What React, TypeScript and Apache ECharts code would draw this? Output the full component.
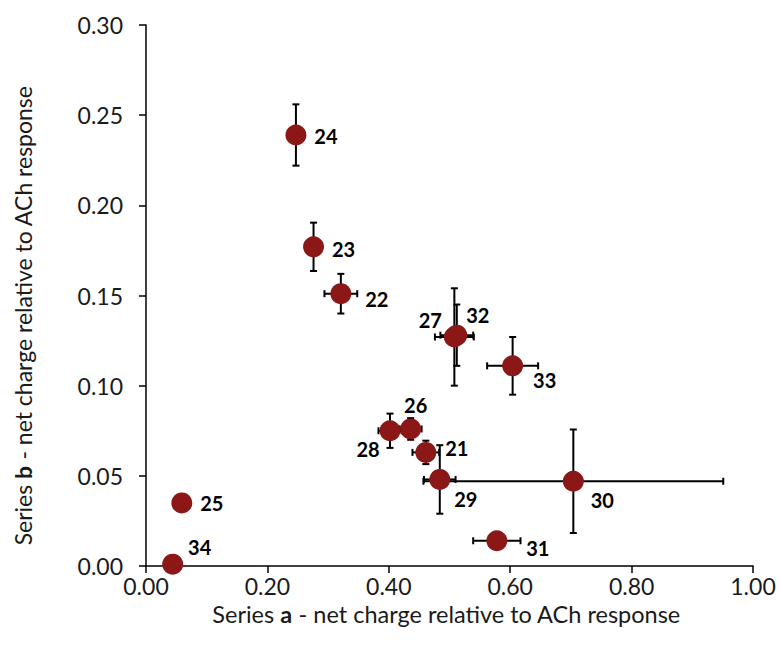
import React, { useEffect, useRef } from "react";
import * as echarts from "echarts";

// Sample identifiers
const ids = ["21", "22", "23", "24", "25", "26", "27", "28", "29", "30", "31", "32", "33", "34"];
// Series a (x) values
const seriesA = [0.461, 0.321, 0.276, 0.247, 0.059, 0.436, 0.508, 0.402, 0.484, 0.704, 0.578, 0.512, 0.604, 0.044];
// Series b (y) values
const seriesB = [0.063, 0.151, 0.177, 0.239, 0.035, 0.076, 0.127, 0.075, 0.048, 0.047, 0.014, 0.128, 0.111, 0.001];
// Error of series a (horizontal)
const errA = [0.022, 0.027, 0, 0, 0, 0.018, 0.032, 0.019, 0.026, 0.247, 0.039, 0.027, 0.042, 0];
// Error of series b (vertical)
const errB = [0.0065, 0.011, 0.0134, 0.017, 0, 0.006, 0.027, 0.0095, 0.019, 0.0287, 0, 0.017, 0.016, 0];

const xTicks = [0, 0.2, 0.4, 0.6, 0.8, 1.0];
const yTicks = [0, 0.05, 0.1, 0.15, 0.2, 0.25, 0.3];

// label offsets (styling) in px from marker centre
const labelOffset: Record<string, [number, number]> = {
  "21": [31, -4],
  "22": [36, 5],
  "23": [30, 2],
  "24": [30, 1],
  "25": [30, 0],
  "26": [5, -24],
  "27": [-24, -17],
  "28": [-22, 18],
  "29": [26, 20],
  "30": [29, 19],
  "31": [41, 7],
  "32": [21, -20],
  "33": [32, 14],
  "34": [27, -17],
};

const FONT = "Lato, 'Open Sans', sans-serif";
const MARKER = "#8c1717";
const TEXT = "#1a1a1a";

export default function App() {
  const ref = useRef<HTMLDivElement>(null);
  useEffect(() => {
    if (!ref.current) return;
    const chart = echarts.init(ref.current, undefined, { renderer: "svg" });
    const cap = 3.5;
    const errData = ids.map((id, i) => [seriesA[i], seriesB[i], errA[i], errB[i]]);
    const option: any = {
      animation: false,
      backgroundColor: "#ffffff",
      textStyle: { fontFamily: FONT },
      grid: { left: 146, right: 28, top: 25, bottom: 86, containLabel: false },
      xAxis: {
        type: "value",
        min: xTicks[0],
        max: xTicks[xTicks.length - 1],
        interval: 0.2,
        splitLine: { show: false },
        axisLine: { show: true, onZero: false, lineStyle: { color: "#000", width: 1.5 } },
        axisTick: { show: true, inside: false, length: 7, lineStyle: { color: "#000", width: 1.5 } },
        axisLabel: {
          color: TEXT,
          fontSize: 23,
          fontFamily: FONT,
          margin: 8,
          formatter: (v: number) => v.toFixed(2),
        },
        name: "Series {b|a} - net charge relative to ACh response",
        nameLocation: "middle",
        nameGap: 36,
        nameTextStyle: {
          color: TEXT,
          fontSize: 23.5,
          fontFamily: FONT,
          padding: [0, 6, 0, 0],
          rich: { b: { fontWeight: "bold", fontSize: 23.5, fontFamily: FONT, color: TEXT } },
        },
      },
      yAxis: {
        type: "value",
        min: yTicks[0],
        max: yTicks[yTicks.length - 1],
        interval: 0.05,
        splitLine: { show: false },
        axisLine: { show: true, onZero: false, lineStyle: { color: "#000", width: 1.5 } },
        axisTick: { show: true, inside: false, length: 7, lineStyle: { color: "#000", width: 1.5 } },
        axisLabel: {
          color: TEXT,
          fontSize: 23,
          fontFamily: FONT,
          margin: 23,
          formatter: (v: number) => v.toFixed(2),
        },
        name: "Series {b|b} - net charge relative to ACh response",
        nameLocation: "middle",
        nameGap: 112,
        nameRotate: 90,
        nameTextStyle: {
          color: TEXT,
          fontSize: 23,
          fontFamily: FONT,
          padding: [0, 40, 0, 0],
          rich: { b: { fontWeight: "bold", fontSize: 23, fontFamily: FONT, color: TEXT } },
        },
      },
      series: [
        {
          type: "custom",
          z: 1,
          data: errData,
          encode: { x: 0, y: 1 },
          renderItem: (params: any, api: any) => {
            const x = api.value(0);
            const y = api.value(1);
            const xe = api.value(2);
            const ye = api.value(3);
            const children: any[] = [];
            const st = { stroke: "#000", lineWidth: 2 };
            if (xe > 0) {
              const l = api.coord([x - xe, y]);
              const r = api.coord([x + xe, y]);
              children.push({ type: "line", shape: { x1: l[0], y1: l[1], x2: r[0], y2: r[1] }, style: st });
              children.push({ type: "line", shape: { x1: l[0], y1: l[1] - cap, x2: l[0], y2: l[1] + cap }, style: st });
              children.push({ type: "line", shape: { x1: r[0], y1: r[1] - cap, x2: r[0], y2: r[1] + cap }, style: st });
            }
            if (ye > 0) {
              const t = api.coord([x, y + ye]);
              const b = api.coord([x, y - ye]);
              children.push({ type: "line", shape: { x1: t[0], y1: t[1], x2: b[0], y2: b[1] }, style: st });
              children.push({ type: "line", shape: { x1: t[0] - cap, y1: t[1], x2: t[0] + cap, y2: t[1] }, style: st });
              children.push({ type: "line", shape: { x1: b[0] - cap, y1: b[1], x2: b[0] + cap, y2: b[1] }, style: st });
            }
            return { type: "group", children };
          },
        },
        {
          type: "scatter",
          z: 5,
          symbol: "circle",
          symbolSize: 21,
          itemStyle: { color: MARKER, opacity: 1 },
          data: ids.map((id, i) => ({
            name: id,
            value: [seriesA[i], seriesB[i]],
            label: {
              show: true,
              position: "inside",
              offset: labelOffset[id],
              formatter: id,
              color: "#000",
              fontWeight: "bold",
              fontSize: 20,
              fontFamily: FONT,
              align: "center",
              verticalAlign: "middle",
            },
          })),
        },
      ],
    };
    chart.setOption(option);
    return () => chart.dispose();
  }, []);
  return (
    <div
      ref={ref}
      style={{ position: "absolute", left: 0, top: 0, width: 781, height: 652, background: "#fff" }}
    />
  );
}
